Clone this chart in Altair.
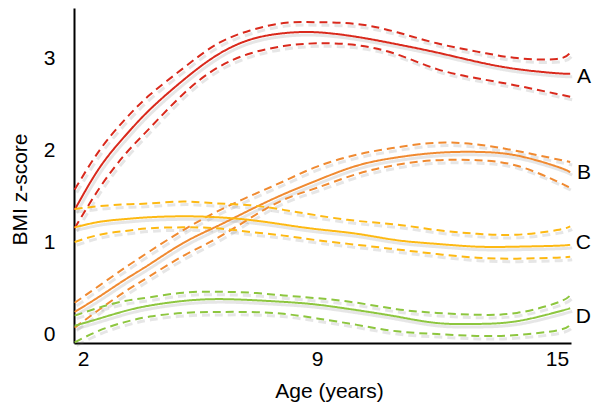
import altair as alt
import pandas as pd

ages = [1.75, 2.5, 3.25, 4, 5, 6, 7, 8, 9, 10, 11, 12, 13, 14, 15, 15.33]

series_names = ["A", "B", "C", "D"]
series_colors = ["#D9291C", "#F08A31", "#FDB913", "#8DC63F"]

A_mid = [1.36, 1.82, 2.16, 2.45, 2.77, 3.04, 3.21, 3.28, 3.29, 3.24, 3.16, 3.07, 2.97, 2.89, 2.845, 2.84]
A_up = [1.58, 2.01, 2.34, 2.61, 2.90, 3.16, 3.31, 3.39, 3.40, 3.38, 3.29, 3.17, 3.08, 3.01, 3.00, 3.07]
A_lo = [1.16, 1.60, 1.96, 2.25, 2.62, 2.90, 3.06, 3.14, 3.17, 3.15, 3.05, 2.89, 2.79, 2.71, 2.62, 2.59]

B_mid = [0.25, 0.42, 0.60, 0.77, 1.00, 1.18, 1.36, 1.53, 1.68, 1.84, 1.93, 1.98, 1.99, 1.95, 1.83, 1.77]
B_up = [0.35, 0.54, 0.73, 0.91, 1.14, 1.34, 1.51, 1.67, 1.83, 1.96, 2.04, 2.09, 2.07, 2.00, 1.91, 1.88]
B_lo = [0.08, 0.28, 0.47, 0.64, 0.86, 1.05, 1.27, 1.47, 1.60, 1.75, 1.85, 1.90, 1.90, 1.84, 1.67, 1.60]

C_mid = [1.17, 1.23, 1.26, 1.28, 1.29, 1.28, 1.25, 1.20, 1.15, 1.10, 1.03, 0.99, 0.96, 0.96, 0.97, 0.98]
C_up = [1.37, 1.40, 1.42, 1.43, 1.45, 1.43, 1.41, 1.36, 1.30, 1.24, 1.20, 1.14, 1.10, 1.09, 1.14, 1.18]
C_lo = [1.01, 1.09, 1.13, 1.16, 1.17, 1.16, 1.12, 1.08, 1.03, 0.98, 0.93, 0.88, 0.84, 0.83, 0.84, 0.85]

D_mid = [0.10, 0.18, 0.26, 0.32, 0.37, 0.39, 0.38, 0.36, 0.33, 0.27, 0.20, 0.13, 0.12, 0.15, 0.25, 0.29]
D_up = [0.21, 0.30, 0.37, 0.41, 0.46, 0.47, 0.46, 0.43, 0.40, 0.35, 0.28, 0.24, 0.22, 0.24, 0.35, 0.43]
D_lo = [-0.08, 0.05, 0.14, 0.20, 0.24, 0.25, 0.25, 0.23, 0.18, 0.11, 0.04, 0.01, -0.01, 0.00, 0.05, 0.11]

label_age = [15.85, 15.85, 15.85, 15.85]
label_z = [2.80, 1.76, 1.00, 0.20]

x_ticks = [2, 9, 15]
y_ticks = [0, 1, 2, 3]

rows = []
for s, mid, up, lo in [("A", A_mid, A_up, A_lo), ("B", B_mid, B_up, B_lo),
                       ("C", C_mid, C_up, C_lo), ("D", D_mid, D_up, D_lo)]:
    for band, vals in (("mid", mid), ("upper", up), ("lower", lo)):
        for a, v in zip(ages, vals):
            rows.append({"series": s, "style": "solid" if band == "mid" else "dashed",
                         "line": s + band, "age": a, "z": v})
df = pd.DataFrame(rows)
lab_df = pd.DataFrame({"series": series_names, "age": label_age, "z": label_z})

FONT = "Liberation Sans"
x_scale = alt.Scale(domain=[1.73, 2, 9, 15, 15.35], range=[0, 9, 243, 483, 497], zero=False, nice=False)
y_scale = alt.Scale(domain=[-0.087, 3.554], zero=False, nice=False)
dash_scale = alt.Scale(domain=["solid", "dashed"], range=[[1, 0], [8, 5]])

x_axis = alt.Axis(values=x_ticks, format="d", title="Age (years)", ticks=False, tickSize=0, grid=False,
                  domainColor="black", domainWidth=2, labelFontSize=21, labelColor="black",
                  labelFont=FONT, labelPadding=5, labelFlush=False, titleFontSize=21,
                  titleFont=FONT, titleFontWeight="normal", titleColor="black",
                  titleX=255, titleY=54, titleBaseline="alphabetic", titleAlign="center")
y_axis = alt.Axis(values=y_ticks, format="d", title="BMI z-score", ticks=False, tickSize=0, grid=False,
                  domainColor="black", domainWidth=2, labelFontSize=21, labelColor="black",
                  labelFont=FONT, labelPadding=19, labelFlush=False, titleFontSize=21,
                  titleFont=FONT, titleFontWeight="normal", titleColor="black",
                  titleX=-54, titleY=181, titleAngle=270, titleAlign="center",
                  titleBaseline="middle")

base = alt.Chart(df)
shadow = base.mark_line(interpolate="natural", color="#777777", opacity=0.18, strokeWidth=3,
                        xOffset=2, yOffset=3).encode(
    x=alt.X("age:Q", scale=x_scale, axis=x_axis),
    y=alt.Y("z:Q", scale=y_scale, axis=y_axis),
    strokeDash=alt.StrokeDash("style:N", scale=dash_scale, legend=None),
    detail="line:N",
)
lines = base.mark_line(interpolate="natural", strokeWidth=2).encode(
    x=alt.X("age:Q", scale=x_scale),
    y=alt.Y("z:Q", scale=y_scale),
    color=alt.Color("series:N", scale=alt.Scale(domain=series_names, range=series_colors), legend=None),
    strokeDash=alt.StrokeDash("style:N", scale=dash_scale, legend=None),
    detail="line:N",
)
labels = alt.Chart(lab_df).mark_text(fontSize=21, font=FONT, color="black", align="right",
                                     baseline="middle").encode(
    x=alt.X("age:Q", scale=x_scale),
    y=alt.Y("z:Q", scale=y_scale),
    text="series:N",
)

chart = alt.layer(shadow, lines, labels).properties(
    width=497, height=335,
    padding={"left": 66, "top": 0, "right": 21, "bottom": 60},
    autosize=alt.AutoSizeParams(type="none"),
).configure_view(stroke=None)

chart.save("out.html", embed_options={"renderer": "svg", "actions": False})
